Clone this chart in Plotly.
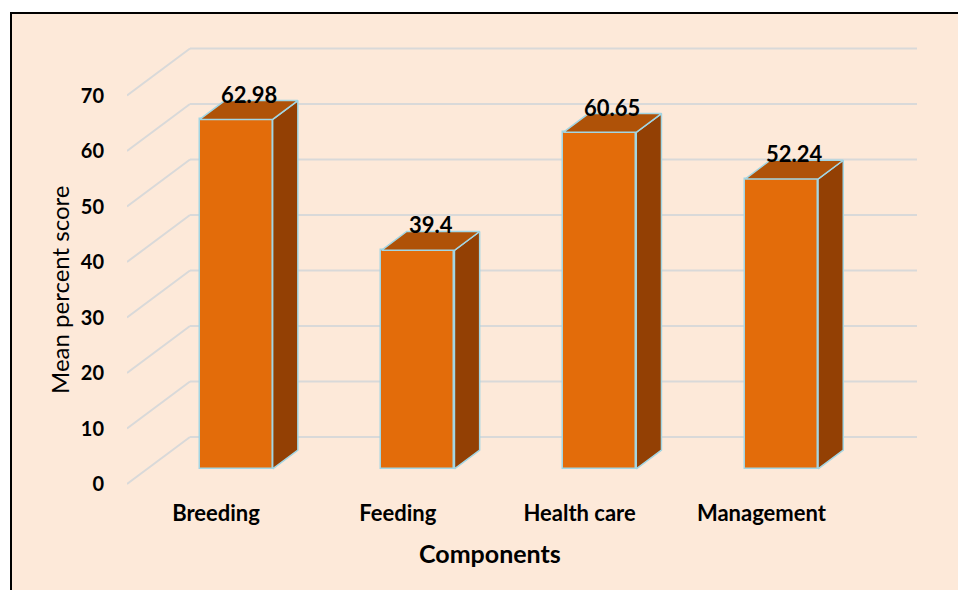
import plotly.graph_objects as go

# ---- data ----
categories = ["Breeding", "Feeding", "Health care", "Management"]
values = [62.98, 39.4, 60.65, 52.24]
value_labels = ["62.98", "39.4", "60.65", "52.24"]
y_ticks = [0, 10, 20, 30, 40, 50, 60, 70]

# ---- layout constants (pixels) ----
W, H = 958, 590
PL, PR, PT, PB = 127, 940, 20, 495
Y0PX = 484          # pixel row of value 0 on the front plane
K = 5.55            # pixels per value unit
S = 181.8           # pixels per category step
C0 = 216            # pixel x of first category on front plane

xr = [(PL - C0) / S, (PR - C0) / S]
yr = [(Y0PX - PB) / K, (Y0PX - PT) / K]

DX = 63 / S         # full depth, x offset in category units
DY = 47 / K         # full depth, y offset in value units
F1, F2 = 0.32, 0.72 # bar front/back depth fractions
BW = 73 / S         # bar width
GRID_R = (917 - C0) / S

BG = "#FDE9D9"
FRONT = "#E36C0A"
TOP = "#AF5208"
SIDE = "#934004"
EDGE = "#A3D6E4"
GRID = "#D9D9D9"
FONT = "Lato"

fig = go.Figure()

shapes = []
def px2paper_x(p):
    return (p - PL) / (PR - PL)
def px2paper_y(p):
    return (PB - p) / (PB - PT)

shapes.append(dict(type="rect", xref="paper", yref="paper",
                   x0=px2paper_x(11), x1=px2paper_x(962),
                   y0=px2paper_y(594), y1=px2paper_y(13),
                   fillcolor=BG, line=dict(color="black", width=2), layer="below"))

xmin = xr[0]
for v in y_ticks:
    shapes.append(dict(type="line", xref="x", yref="y", layer="below",
                       x0=xmin, y0=v, x1=xmin + DX, y1=v + DY,
                       line=dict(color=GRID, width=2)))
    shapes.append(dict(type="line", xref="x", yref="y", layer="below",
                       x0=xmin + DX, y0=v + DY, x1=GRID_R, y1=v + DY,
                       line=dict(color=GRID, width=2)))

# front faces
xs = [i + F1 * DX for i in range(len(categories))]
base = F1 * DY
fig.add_trace(go.Bar(
    x=xs, y=values, base=[base] * len(values), width=BW,
    marker=dict(color=FRONT, line=dict(color=EDGE, width=1.5)),
    hoverinfo="skip", showlegend=False))

sx = (F2 - F1) * DX
sy = (F2 - F1) * DY
lab_x, lab_y = [], []
for i, v in enumerate(values):
    xl = xs[i] - BW / 2
    xrt = xs[i] + BW / 2
    top = base + v
    fig.add_trace(go.Scatter(
        x=[xrt, xrt + sx, xrt + sx, xrt, xrt],
        y=[base, base + sy, top + sy, top, base],
        mode="lines", fill="toself", fillcolor=SIDE,
        line=dict(color=EDGE, width=1.5), hoverinfo="skip", showlegend=False))
    fig.add_trace(go.Scatter(
        x=[xl, xrt, xrt + sx, xl + sx, xl],
        y=[top, top, top + sy, top + sy, top],
        mode="lines", fill="toself", fillcolor=TOP,
        line=dict(color=EDGE, width=1.5), hoverinfo="skip", showlegend=False))
    lab_x.append(xs[i] + sx / 2)
    lab_y.append(top + sy)

annotations = []
for x, y, t in zip(lab_x, lab_y, value_labels):
    annotations.append(dict(x=x, y=y, xref="x", yref="y", text=t,
                            showarrow=False, yanchor="bottom", xanchor="center",
                            yshift=-9,
                            font=dict(family=FONT, size=22, color="black", weight="bold")))

annotations.append(dict(x=px2paper_x(59), y=px2paper_y(290), xref="paper", yref="paper",
                        text="Mean percent score", textangle=-90, showarrow=False,
                        xanchor="center", yanchor="middle",
                        font=dict(family=FONT, size=24, color="black")))
annotations.append(dict(x=px2paper_x(490), y=px2paper_y(553), xref="paper", yref="paper",
                        text="<b>Components</b>", showarrow=False,
                        xanchor="center", yanchor="middle",
                        font=dict(family=FONT, size=25, color="black")))

fig.update_layout(
    width=W, height=H,
    margin=dict(l=PL, r=W - PR, t=PT, b=H - PB),
    paper_bgcolor="white", plot_bgcolor="rgba(0,0,0,0)",
    shapes=shapes, annotations=annotations,
    xaxis=dict(range=xr, tickmode="array", tickvals=list(range(len(categories))),
               ticktext=categories, showgrid=False, zeroline=False, showline=False,
               ticks="", ticklabelstandoff=3,
               tickfont=dict(family=FONT, size=22, color="black", weight="bold")),
    yaxis=dict(range=yr, tickmode="array", tickvals=y_ticks,
               ticktext=[str(t) for t in y_ticks], showgrid=False, zeroline=False,
               showline=False, ticks="", ticklabelstandoff=22,
               tickfont=dict(family=FONT, size=20, color="black", weight="bold")),
    bargap=0,
)

fig.write_html("out.html", config={"displayModeBar": False},
               post_script="document.body.style.margin='0px';document.body.style.padding='0px';")
